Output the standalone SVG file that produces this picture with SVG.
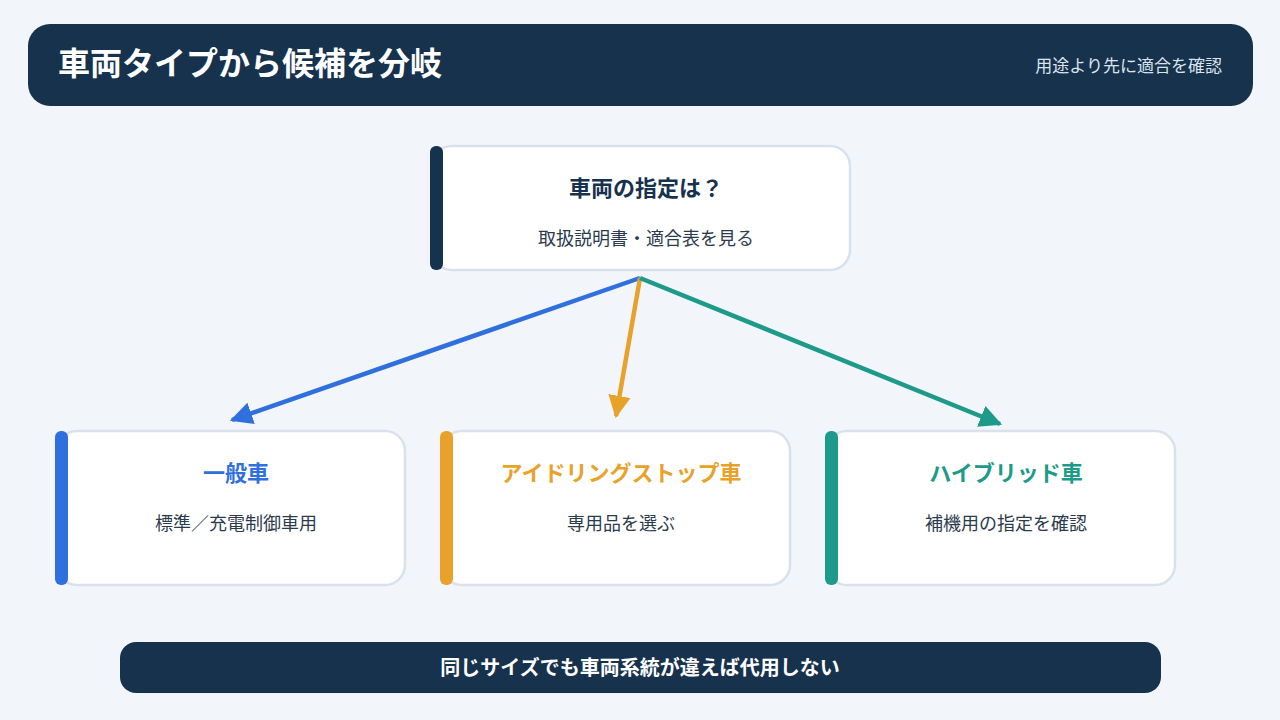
<svg xmlns="http://www.w3.org/2000/svg" width="1280" height="720" viewBox="0 0 1280 720">
<style>
text{font-family:"Noto Sans CJK JP","Noto Sans",sans-serif}
.card{fill:#fff;stroke:#d9e2ec;stroke-width:2.5}
.t{font-size:22px;font-weight:bold;text-anchor:middle}
.s{font-size:18px;fill:#2b3a4d;text-anchor:middle}
.ln{stroke-width:4.5;fill:none}
</style>
<defs>
<marker id="mb" viewBox="0 0 10 10" refX="9" refY="5" markerWidth="5" markerHeight="5" orient="auto" markerUnits="strokeWidth"><path d="M0,0L10,5L0,10z" fill="#2f6fde"/></marker>
<marker id="mo" viewBox="0 0 10 10" refX="9" refY="5" markerWidth="5" markerHeight="5" orient="auto" markerUnits="strokeWidth"><path d="M0,0L10,5L0,10z" fill="#e8a22a"/></marker>
<marker id="mt" viewBox="0 0 10 10" refX="9" refY="5" markerWidth="5" markerHeight="5" orient="auto" markerUnits="strokeWidth"><path d="M0,0L10,5L0,10z" fill="#1e9a8a"/></marker>
</defs>
<rect width="1280" height="720" fill="#f2f6fb"/>
<g id="header">
<rect x="28" y="24" width="1225" height="82" rx="22" fill="#17324d"/>
<text x="58" y="75" font-size="32" font-weight="bold" fill="#fff">車両タイプから候補を分岐</text>
<text x="1222" y="72" font-size="17" fill="#dbe4ee" text-anchor="end">用途より先に適合を確認</text>
</g>
<g id="connectors">
<line class="ln" x1="640" y1="278" x2="232" y2="420" stroke="#2f6fde" marker-end="url(#mb)"/>
<line class="ln" x1="640" y1="278" x2="616" y2="416" stroke="#e8a22a" marker-end="url(#mo)"/>
<line class="ln" x1="640" y1="278" x2="1000" y2="424" stroke="#1e9a8a" marker-end="url(#mt)"/>
</g>
<g id="root">
<rect class="card" x="432" y="146" width="418" height="124" rx="20"/>
<rect x="430" y="146" width="13" height="124" rx="6" fill="#17324d"/>
<text class="t" x="646" y="196" fill="#17324d">車両の指定は？</text>
<text class="s" x="646" y="245">取扱説明書・適合表を見る</text>
</g>
<g id="normal">
<rect class="card" x="57" y="431" width="348" height="154" rx="20"/>
<rect x="55" y="431" width="13" height="154" rx="6" fill="#2f6fde"/>
<text class="t" x="236" y="481" fill="#2f6fde">一般車</text>
<text class="s" x="236" y="530">標準／充電制御車用</text>
</g>
<g id="idle">
<rect class="card" x="442" y="431" width="348" height="154" rx="20"/>
<rect x="440" y="431" width="13" height="154" rx="6" fill="#e8a22a"/>
<text class="t" x="621" y="481" fill="#e8a22a">アイドリングストップ車</text>
<text class="s" x="621" y="530">専用品を選ぶ</text>
</g>
<g id="hybrid">
<rect class="card" x="827" y="431" width="348" height="154" rx="20"/>
<rect x="825" y="431" width="13" height="154" rx="6" fill="#1e9a8a"/>
<text class="t" x="1006" y="481" fill="#1e9a8a">ハイブリッド車</text>
<text class="s" x="1006" y="530">補機用の指定を確認</text>
</g>
<g id="footer">
<rect x="120" y="642" width="1041" height="51" rx="16" fill="#17324d"/>
<text x="640" y="675" font-size="20" font-weight="bold" fill="#fff" text-anchor="middle">同じサイズでも車両系統が違えば代用しない</text>
</g>
</svg>
